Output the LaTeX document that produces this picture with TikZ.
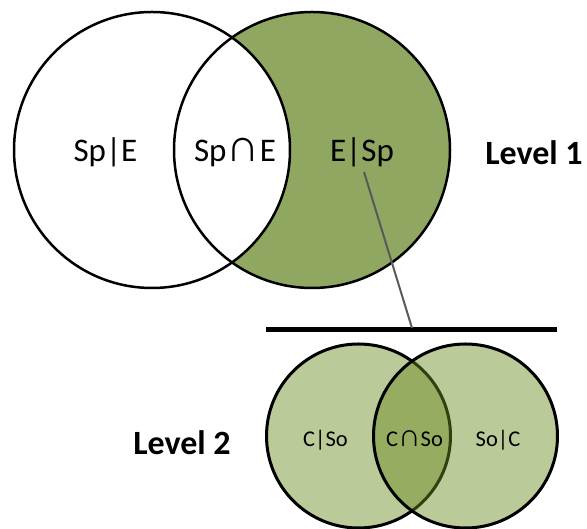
\documentclass[tikz,border=0pt]{standalone}
\usepackage{fontspec}
\setmainfont{Carlito}
\newfontfamily\symfont{Liberation Sans}[Scale=1.4]
\usepackage{xcolor}
\definecolor{vennDark}{HTML}{8FA760}
\definecolor{vennLight}{HTML}{BBCA99}
\definecolor{vennOver}{HTML}{6B8C21}
\definecolor{vennLink}{HTML}{595959}

\begin{document}
\begin{tikzpicture}[x=1pt, y=1pt,
  ring/.style={draw=black, line width=2.5pt},
  bigtext/.style={anchor=base, font=\fontsize{33}{33}\selectfont},
  smalltext/.style={anchor=base, font=\fontsize{22.5}{23}\selectfont},
  leveltext/.style={anchor=base, font=\fontsize{34}{34}\selectfont\bfseries}]
  \useasboundingbox (0,0) rectangle (587,529);
  % level 1
  \fill[vennDark] (312,379) circle (138);
  \fill[white] (152,379) circle (138);
  \draw[ring] (152,379) circle (138);
  \draw[ring] (312,379) circle (138);
  \node[bigtext] (spe) at (105.5,367) {Sp|E};
  \node[bigtext] (spande) at (235,367) {Sp{\symfont ∩}E};
  \node[bigtext] (esp) at (362,367) {E|Sp};
  \node[leveltext] (lvlone) at (534,364) {Level 1};
  % bar and link
  \draw[line width=5pt] (266,199) -- (557,199);
  \coordinate (tap) at (412,201);
  \draw[vennLink, line width=2pt] ([xshift=2pt,yshift=-1pt]esp.south) -- (tap);
  % level 2
  \filldraw[fill=vennLight, draw=black, line width=3pt] (358.5,93) circle (92);
  \fill[vennOver, fill opacity=0.46] (465.5,93) circle (92);
  \draw[black, line width=3pt] (465.5,93) circle (92);
  \node[smalltext] (cso) at (325.5,82) {C|So};
  \node[smalltext] (candso) at (414.5,82) {C{\symfont ∩}So};
  \node[smalltext] (soc) at (498,82) {So|C};
  \node[leveltext] (lvltwo) at (182,74) {Level 2};
\end{tikzpicture}
\end{document}
